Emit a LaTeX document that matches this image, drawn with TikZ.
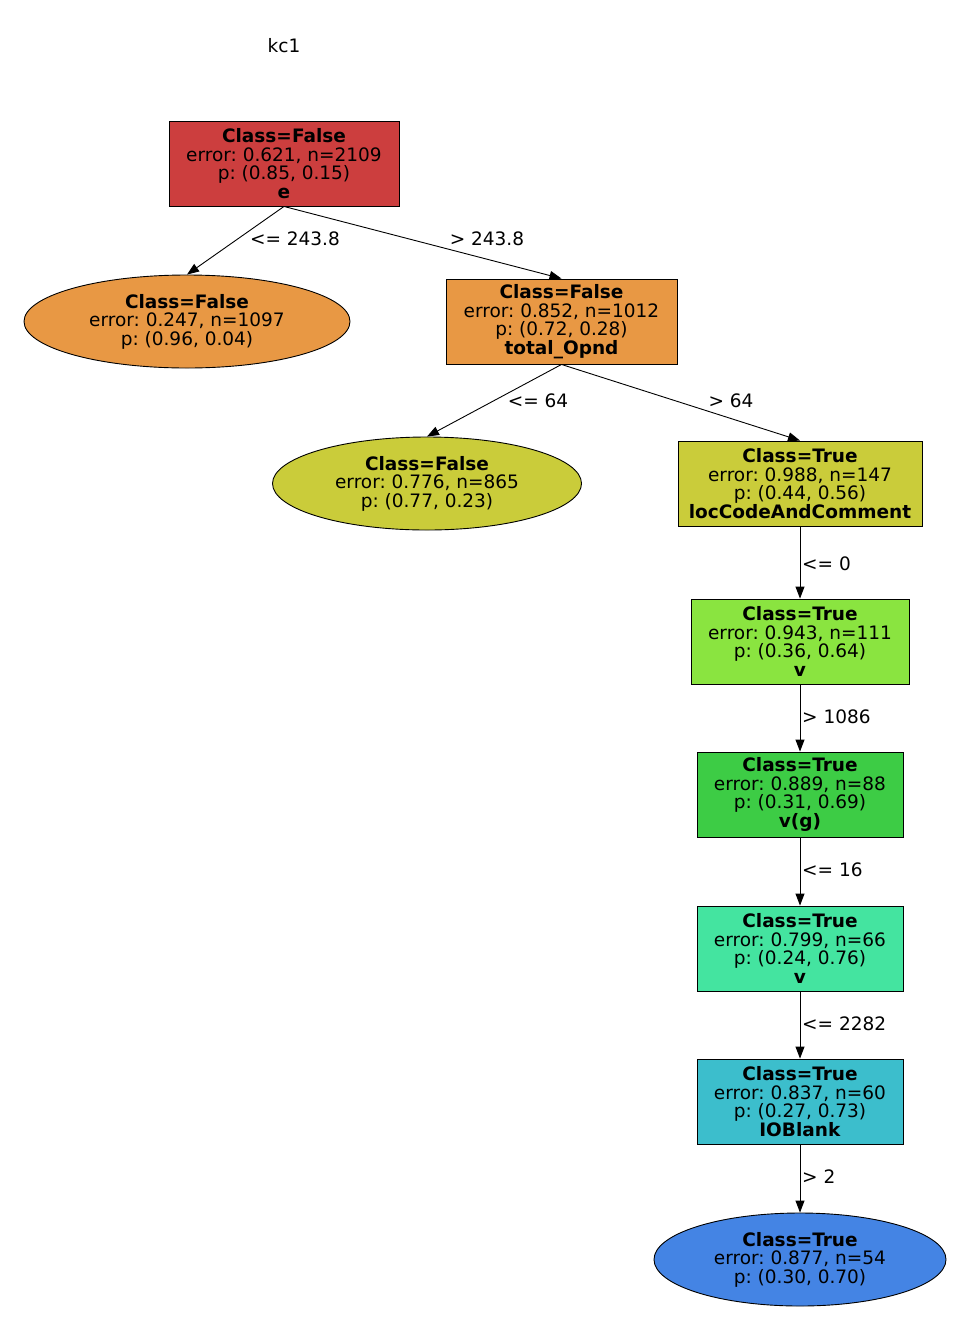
\documentclass[tikz,border=0pt]{standalone}
\usepackage{fontspec}
\setmainfont{DejaVu Sans}
\usetikzlibrary{shapes.geometric,arrows.meta}
\definecolor{cred}{RGB}{204,62,62}
\definecolor{corange}{RGB}{232,152,68}
\definecolor{colive}{RGB}{202,204,58}
\definecolor{clgreen}{RGB}{138,228,64}
\definecolor{cgreen}{RGB}{61,204,69}
\definecolor{cteal}{RGB}{68,228,160}
\definecolor{ccyan}{RGB}{60,190,204}
\definecolor{cblue}{RGB}{68,132,228}
\frenchspacing
\tikzset{
  every node/.style={font=\fontsize{18.5}{18.5}\selectfont\frenchspacing, text=black},
  splitbox/.style={draw=black, line width=0.9pt, rectangle, inner sep=0pt, align=center},
  leafell/.style={draw=black, line width=0.9pt, ellipse, inner sep=0pt, align=center},
  conn/.style={draw=black, line width=0.9pt, -{Triangle[length=12pt,width=9pt]}},
  elabel/.style={inner sep=0pt}
}
\begin{document}
\begin{tikzpicture}[x=1pt,y=-1pt]
\useasboundingbox (0,0) rectangle (971,1331);
\node (title) at (284,46) {kc1};
\node[splitbox, fill=cred, minimum width=230pt, minimum height=85pt] (n0) at (284,163.5)
  {\textbf{Class=False}\\error: 0.621, n=2109\\p: (0.85, 0.15)\\\textbf{e}};
\node[leafell, fill=corange, minimum width=326pt, minimum height=93pt] (n1) at (187,321.5)
  {\textbf{Class=False}\\error: 0.247, n=1097\\p: (0.96, 0.04)};
\node[splitbox, fill=corange, minimum width=231pt, minimum height=85pt] (n2) at (561.5,321.5)
  {\textbf{Class=False}\\error: 0.852, n=1012\\p: (0.72, 0.28)\\\textbf{total\_Opnd}};
\node[leafell, fill=colive, minimum width=309pt, minimum height=93pt] (n3) at (427,483.5)
  {\textbf{Class=False}\\error: 0.776, n=865\\p: (0.77, 0.23)};
\node[splitbox, fill=colive, minimum width=244pt, minimum height=85pt] (n4) at (800,483.5)
  {\textbf{Class=True}\\error: 0.988, n=147\\p: (0.44, 0.56)\\\textbf{locCodeAndComment}};
\node[splitbox, fill=clgreen, minimum width=218pt, minimum height=85pt] (n5) at (800,641.5)
  {\textbf{Class=True}\\error: 0.943, n=111\\p: (0.36, 0.64)\\\textbf{v}};
\node[splitbox, fill=cgreen, minimum width=206pt, minimum height=85pt] (n6) at (800,794.5)
  {\textbf{Class=True}\\error: 0.889, n=88\\p: (0.31, 0.69)\\\textbf{v(g)}};
\node[splitbox, fill=cteal, minimum width=206pt, minimum height=85pt] (n7) at (800,948.5)
  {\textbf{Class=True}\\error: 0.799, n=66\\p: (0.24, 0.76)\\\textbf{v}};
\node[splitbox, fill=ccyan, minimum width=206pt, minimum height=85pt] (n8) at (800,1101.5)
  {\textbf{Class=True}\\error: 0.837, n=60\\p: (0.27, 0.73)\\\textbf{IOBlank}};
\node[leafell, fill=cblue, minimum width=292pt, minimum height=93pt] (n9) at (800,1259.5)
  {\textbf{Class=True}\\error: 0.877, n=54\\p: (0.30, 0.70)};

\draw[conn] (n0.south) -- (n1.north);
\draw[conn] (n0.south) -- (n2.north);
\draw[conn] (n2.south) -- (n3.north);
\draw[conn] (n2.south) -- (n4.north);
\draw[conn] (n4.south) -- (n5.north);
\draw[conn] (n5.south) -- (n6.north);
\draw[conn] (n6.south) -- (n7.north);
\draw[conn] (n7.south) -- (n8.north);
\draw[conn] (n8.south) -- (n9.north);

\node[elabel] (l1) at (295,239) {<= 243.8};
\node[elabel] (l2) at (487,239) {> 243.8};
\node[elabel] (l3) at (538,401) {<= 64};
\node[elabel] (l4) at (731,401) {> 64};
\node[elabel, anchor=west] (l5) at (802,564) {<= 0};
\node[elabel, anchor=west] (l6) at (802,717) {> 1086};
\node[elabel, anchor=west] (l7) at (802,870) {<= 16};
\node[elabel, anchor=west] (l8) at (802,1024) {<= 2282};
\node[elabel, anchor=west] (l9) at (802,1177) {> 2};
\end{tikzpicture}
\end{document}
